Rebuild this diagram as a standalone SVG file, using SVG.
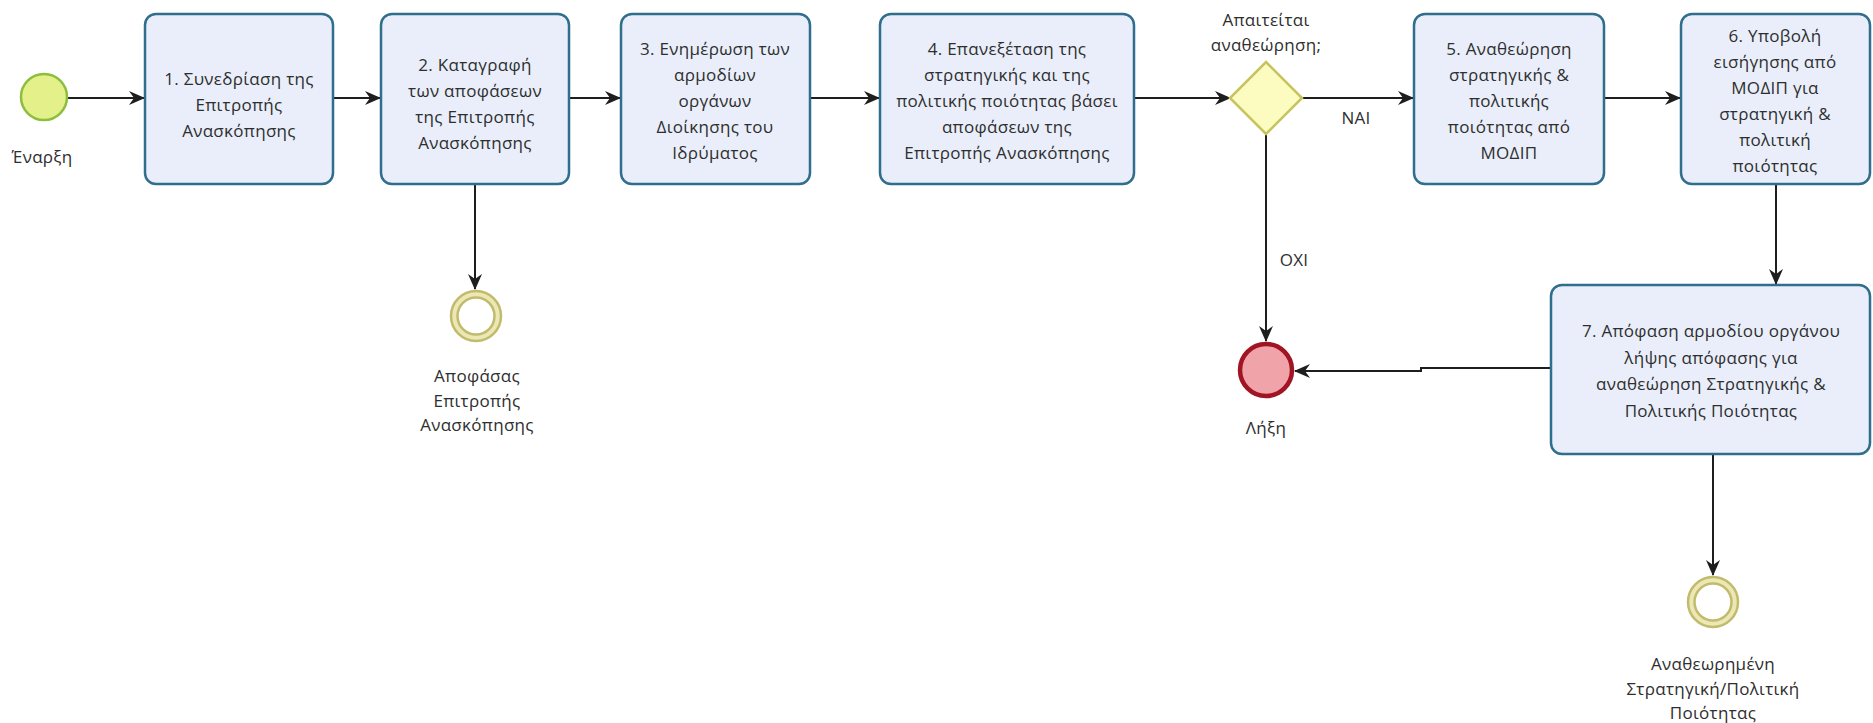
<svg xmlns="http://www.w3.org/2000/svg" width="1873" height="723" viewBox="0 0 1873 723">
  <defs>
    <style>
      .task { fill: #E9EEFA; stroke: #2F6E8C; stroke-width: 2.5; }
      .lbl { font-family: "Open Sans", "Liberation Sans", sans-serif; font-size: 17px; letter-spacing: 0.3px; fill: #2E2E2E; text-anchor: middle; dominant-baseline: central; }
      .flow { fill: none; stroke: #1E1E1E; stroke-width: 2; }
      .start { fill: #E4F08A; stroke: #8DBE3C; stroke-width: 2.5; }
      .gate { fill: #FCFBC0; stroke: #C6C45E; stroke-width: 2.5; }
      .end { fill: #F0A4AA; stroke: #A11424; stroke-width: 4.5; }
      .band { fill: #FFFFFF; stroke: #ECE8B6; stroke-width: 6; }
      .ring { fill: none; stroke: #C2BB6C; stroke-width: 2.5; }
    </style>
    <marker id="arrow" viewBox="0 0 16 14" refX="15" refY="7" markerWidth="16" markerHeight="14" markerUnits="userSpaceOnUse" orient="auto">
      <path d="M0,0 L16,7 L0,14 L5,7 z" fill="#1E1E1E"/>
    </marker>
  </defs>
  <rect width="1873" height="723" fill="#FFFFFF"/>

  <!-- sequence flows -->
  <g id="connectors">
    <line class="flow" x1="67" y1="98" x2="144" y2="98" marker-end="url(#arrow)"/>
    <line class="flow" x1="334" y1="98" x2="380" y2="98" marker-end="url(#arrow)"/>
    <line class="flow" x1="570" y1="98" x2="620" y2="98" marker-end="url(#arrow)"/>
    <line class="flow" x1="811" y1="98" x2="879" y2="98" marker-end="url(#arrow)"/>
    <line class="flow" x1="1135" y1="98" x2="1230" y2="98" marker-end="url(#arrow)"/>
    <line class="flow" x1="1302" y1="98" x2="1413" y2="98" marker-end="url(#arrow)"/>
    <line class="flow" x1="1605" y1="98" x2="1680" y2="98" marker-end="url(#arrow)"/>
    <line class="flow" x1="1776" y1="184" x2="1776" y2="284" marker-end="url(#arrow)"/>
    <line class="flow" x1="1266" y1="133" x2="1266" y2="341" marker-end="url(#arrow)"/>
    <polyline class="flow" points="1550,368 1421,368 1421,371 1295,371" marker-end="url(#arrow)"/>
    <line class="flow" x1="475" y1="184" x2="475" y2="289" marker-end="url(#arrow)"/>
    <line class="flow" x1="1713" y1="455" x2="1713" y2="575" marker-end="url(#arrow)"/>
    <text class="lbl" x="1356" y="117">ΝΑΙ</text>
    <text class="lbl" x="1294" y="259">ΟΧΙ</text>
  </g>

  <g id="start">
    <circle class="start" cx="44" cy="97" r="23"/>
    <text class="lbl" x="42" y="156">Έναρξη</text>
  </g>

  <g id="task1">
    <rect class="task" x="145" y="14" width="188" height="170" rx="11"/>
    <text class="lbl" x="239" y="78">1. Συνεδρίαση της</text>
    <text class="lbl" x="239" y="104">Επιτροπής</text>
    <text class="lbl" x="239" y="130">Ανασκόπησης</text>
  </g>

  <g id="task2">
    <rect class="task" x="381" y="14" width="188" height="170" rx="11"/>
    <text class="lbl" x="475" y="64">2. Καταγραφή</text>
    <text class="lbl" x="475" y="90">των αποφάσεων</text>
    <text class="lbl" x="475" y="116">της Επιτροπής</text>
    <text class="lbl" x="475" y="142">Ανασκόπησης</text>
  </g>

  <g id="task3">
    <rect class="task" x="621" y="14" width="189" height="170" rx="11"/>
    <text class="lbl" x="715" y="48">3. Ενημέρωση των</text>
    <text class="lbl" x="715" y="74">αρμοδίων</text>
    <text class="lbl" x="715" y="100">οργάνων</text>
    <text class="lbl" x="715" y="126">Διοίκησης του</text>
    <text class="lbl" x="715" y="152">Ιδρύματος</text>
  </g>

  <g id="task4">
    <rect class="task" x="880" y="14" width="254" height="170" rx="11"/>
    <text class="lbl" x="1007" y="48">4. Επανεξέταση της</text>
    <text class="lbl" x="1007" y="74">στρατηγικής και της</text>
    <text class="lbl" x="1007" y="100">πολιτικής ποιότητας βάσει</text>
    <text class="lbl" x="1007" y="126">αποφάσεων της</text>
    <text class="lbl" x="1007" y="152">Επιτροπής Ανασκόπησης</text>
  </g>

  <g id="gateway">
    <polygon class="gate" points="1266,62 1302,98 1266,134 1230,98"/>
    <text class="lbl" x="1266" y="19">Απαιτείται</text>
    <text class="lbl" x="1266" y="44">αναθεώρηση;</text>
  </g>

  <g id="task5">
    <rect class="task" x="1414" y="14" width="190" height="170" rx="11"/>
    <text class="lbl" x="1509" y="48">5. Αναθεώρηση</text>
    <text class="lbl" x="1509" y="74">στρατηγικής &amp;</text>
    <text class="lbl" x="1509" y="100">πολιτικής</text>
    <text class="lbl" x="1509" y="126">ποιότητας από</text>
    <text class="lbl" x="1509" y="152">ΜΟΔΙΠ</text>
  </g>

  <g id="task6">
    <rect class="task" x="1681" y="14" width="189" height="170" rx="11"/>
    <text class="lbl" x="1775" y="35">6. Υποβολή</text>
    <text class="lbl" x="1775" y="61">εισήγησης από</text>
    <text class="lbl" x="1775" y="87">ΜΟΔΙΠ για</text>
    <text class="lbl" x="1775" y="113">στρατηγική &amp;</text>
    <text class="lbl" x="1775" y="139">πολιτική</text>
    <text class="lbl" x="1775" y="165">ποιότητας</text>
  </g>

  <g id="task7">
    <rect class="task" x="1551" y="285" width="319" height="169" rx="11"/>
    <text class="lbl" x="1711" y="330">7. Απόφαση αρμοδίου οργάνου</text>
    <text class="lbl" x="1711" y="357">λήψης απόφασης για</text>
    <text class="lbl" x="1711" y="383">αναθεώρηση Στρατηγικής &amp;</text>
    <text class="lbl" x="1711" y="410">Πολιτικής Ποιότητας</text>
  </g>

  <g id="end">
    <circle class="end" cx="1266" cy="370" r="26"/>
    <text class="lbl" x="1266" y="427">Λήξη</text>
  </g>

  <!-- intermediate events: double ring with a pale band between -->
  <g id="event-decisions">
    <circle class="band" cx="476" cy="316" r="21.5"/>
    <circle class="ring" cx="476" cy="316" r="25"/>
    <circle class="ring" cx="476" cy="316" r="18.5"/>
    <text class="lbl" x="477" y="375">Αποφάσας</text>
    <text class="lbl" x="477" y="400">Επιτροπής</text>
    <text class="lbl" x="477" y="424">Ανασκόπησης</text>
  </g>

  <g id="event-revised">
    <circle class="band" cx="1713" cy="602" r="21.5"/>
    <circle class="ring" cx="1713" cy="602" r="25"/>
    <circle class="ring" cx="1713" cy="602" r="18.5"/>
    <text class="lbl" x="1713" y="663">Αναθεωρημένη</text>
    <text class="lbl" x="1713" y="688">Στρατηγική/Πολιτική</text>
    <text class="lbl" x="1713" y="712">Ποιότητας</text>
  </g>
</svg>
